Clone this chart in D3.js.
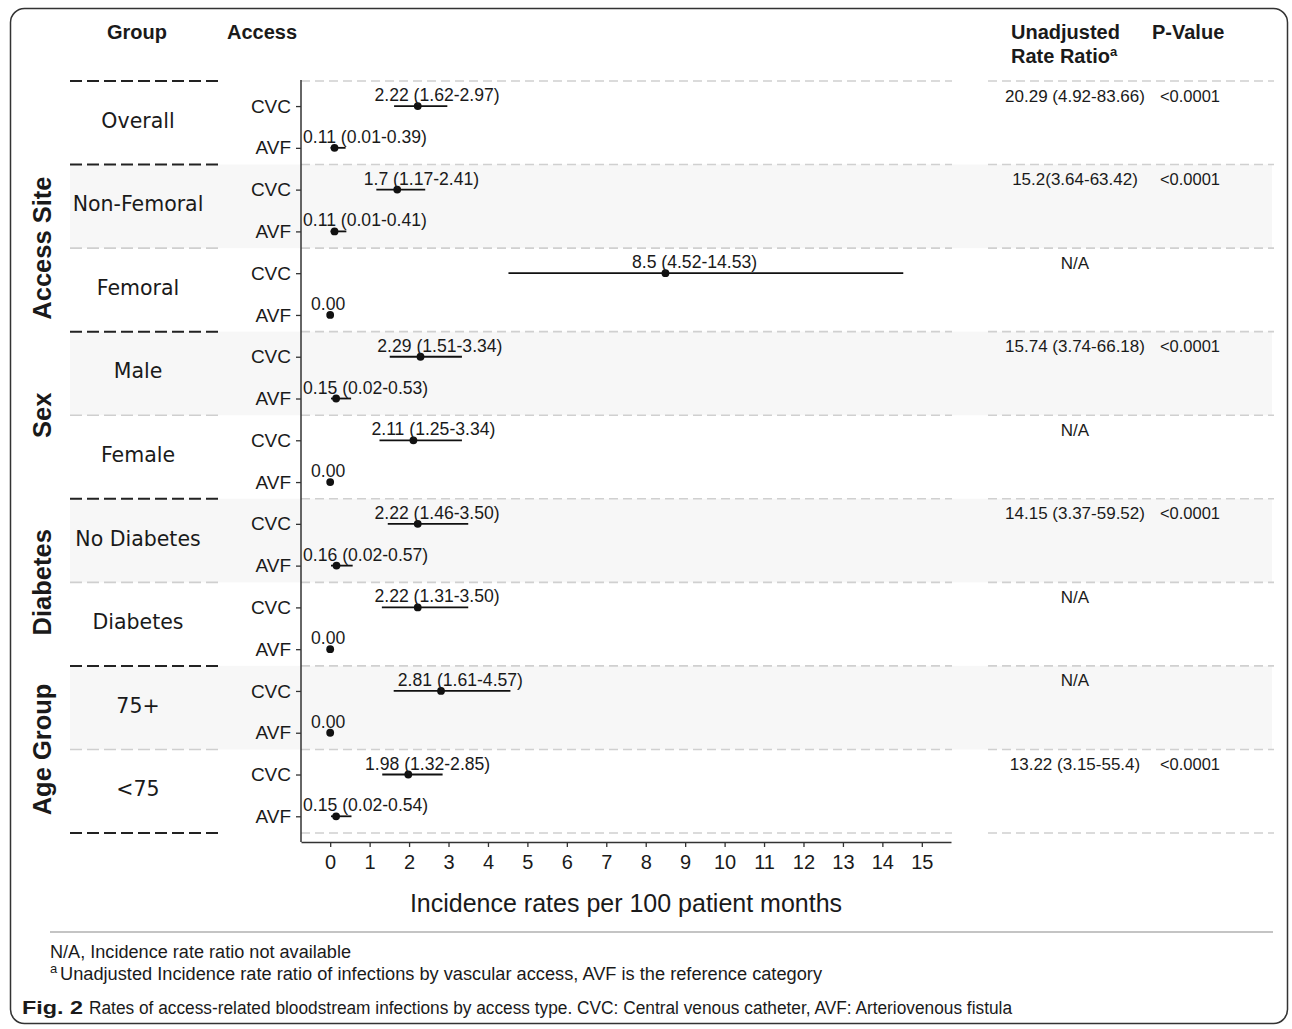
<!DOCTYPE html>
<html>
<head>
<meta charset="utf-8">
<script src="https://cdn.jsdelivr.net/npm/d3@7"></script>
<style>
  body { margin: 0; background: #fff; }
  svg text { font-family: "Liberation Sans", Arial, sans-serif; fill: #1a1a1a; }
</style>
</head>
<body>
<svg id="chart" width="1292" height="1029"></svg>
<script>
// data
const groups = ['Overall', 'Non-Femoral', 'Femoral', 'Male', 'Female', 'No Diabetes', 'Diabetes', '75+', '<75']
const categoryOf = ['', 'Access Site', 'Access Site', 'Sex', 'Sex', 'Diabetes', 'Diabetes', 'Age Group', 'Age Group']
const accessTypes = ['CVC', 'AVF']

const cvcRate = [2.22, 1.7, 8.5, 2.29, 2.11, 2.22, 2.22, 2.81, 1.98]
const cvcLower = [1.62, 1.17, 4.52, 1.51, 1.25, 1.46, 1.31, 1.61, 1.32]
const cvcUpper = [2.97, 2.41, 14.53, 3.34, 3.34, 3.50, 3.50, 4.57, 2.85]
const cvcLabel = ['2.22 (1.62-2.97)', '1.7 (1.17-2.41)', '8.5 (4.52-14.53)', '2.29 (1.51-3.34)', '2.11 (1.25-3.34)',
  '2.22 (1.46-3.50)', '2.22 (1.31-3.50)', '2.81 (1.61-4.57)', '1.98 (1.32-2.85)']

const avfRate = [0.11, 0.11, 0, 0.15, 0, 0.16, 0, 0, 0.15]
const avfLower = [0.01, 0.01, null, 0.02, null, 0.02, null, null, 0.02]
const avfUpper = [0.39, 0.41, null, 0.53, null, 0.57, null, null, 0.54]
const avfLabel = ['0.11 (0.01-0.39)', '0.11 (0.01-0.41)', '0.00', '0.15 (0.02-0.53)', '0.00',
  '0.16 (0.02-0.57)', '0.00', '0.00', '0.15 (0.02-0.54)']

const rateRatio = ['20.29 (4.92-83.66)', '15.2(3.64-63.42)', 'N/A', '15.74 (3.74-66.18)', 'N/A',
  '14.15 (3.37-59.52)', 'N/A', 'N/A', '13.22 (3.15-55.4)']
const pValue = ['<0.0001', '<0.0001', '', '<0.0001', '', '<0.0001', '', '', '<0.0001']

const xTicks = d3.range(0, 16)

const svg = d3.select('#chart')

const panel = { l: 301, r: 951, t: 80, b: 842 }
const x = d3.scaleLinear().domain([-0.74, 15.74]).range([panel.l, panel.r])
const y = d3.scaleLinear().domain([-0.6, 17.4]).range([81, 833])
const boundary = d3.range(groups.length + 1).map(i => 2 * i - 0.6)

const points = groups.flatMap((g, i) => [
  { row: 2 * i, est: cvcRate[i], lo: cvcLower[i], hi: cvcUpper[i], label: cvcLabel[i] },
  { row: 2 * i + 1, est: avfRate[i], lo: avfLower[i], hi: avfUpper[i], label: avfLabel[i] }
])

// outer frame
svg.append('rect')
  .attr('x', 10.5).attr('y', 8.5)
  .attr('width', 1277).attr('height', 1015)
  .attr('rx', 14)
  .attr('fill', 'none')
  .attr('stroke', '#333')
  .attr('stroke-width', 1.5)

// alternating bands
svg.append('g')
  .selectAll('rect')
  .data(groups.map((g, i) => i).filter(i => i % 2 === 1))
  .join('rect')
  .attr('x', 70)
  .attr('width', 1272 - 70)
  .attr('y', i => y(boundary[i]))
  .attr('height', i => y(boundary[i + 1]) - y(boundary[i]))
  .attr('fill', '#f7f7f7')

// separators
const isMajor = i => i === 0 || i === groups.length || categoryOf[i] !== categoryOf[i - 1]

const sep = svg.append('g')
boundary.forEach((b, i) => {
  sep.append('line')
    .attr('x1', 70).attr('x2', 218)
    .attr('y1', y(b)).attr('y2', y(b))
    .attr('stroke', isMajor(i) ? '#222' : '#cfcfcf')
    .attr('stroke-width', isMajor(i) ? 2 : 1.6)
    .attr('stroke-dasharray', '12,5')
  sep.append('line')
    .attr('x1', panel.l).attr('x2', panel.r + 1)
    .attr('y1', y(b)).attr('y2', y(b))
    .attr('stroke', '#d0d0d0')
    .attr('stroke-width', 1.6)
    .attr('stroke-dasharray', '9,5')
  sep.append('line')
    .attr('x1', 988).attr('x2', 1274)
    .attr('y1', y(b)).attr('y2', y(b))
    .attr('stroke', '#d0d0d0')
    .attr('stroke-width', 1.6)
    .attr('stroke-dasharray', '9,5')
})

// headers
const header = svg.append('g').attr('font-weight', 'bold').attr('font-size', 20)
header.append('text').attr('x', 137).attr('y', 39).attr('text-anchor', 'middle').text('Group')
header.append('text').attr('x', 227).attr('y', 39).text('Access')
header.append('text').attr('x', 1011).attr('y', 39).text('Unadjusted')
const rr = header.append('text').attr('x', 1011).attr('y', 63)
rr.append('tspan').text('Rate Ratio')
rr.append('tspan').attr('font-size', 13).attr('dy', -7).text('a')
header.append('text').attr('x', 1152).attr('y', 39).text('P-Value')

// category labels (rotated)
const cats = Array.from(new Set(categoryOf.filter(c => c)))
svg.append('g')
  .selectAll('text')
  .data(cats)
  .join('text')
  .attr('transform', c => {
    const first = categoryOf.indexOf(c)
    const last = categoryOf.lastIndexOf(c)
    const cy = (y(boundary[first]) + y(boundary[last + 1])) / 2
    return `translate(51, ${cy}) rotate(-90)`
  })
  .attr('text-anchor', 'middle')
  .attr('font-weight', 'bold')
  .attr('font-size', 25.5)
  .text(c => c)

// group labels
svg.append('g')
  .selectAll('text')
  .data(groups)
  .join('text')
  .attr('x', 138)
  .attr('y', (g, i) => (y(boundary[i]) + y(boundary[i + 1])) / 2 + 5)
  .attr('text-anchor', 'middle')
  .style('font-family', '"DejaVu Sans", sans-serif')
  .attr('font-size', 20.5)
  .text(g => g)

// axes
const axisX = d3.axisBottom(x)
  .tickValues(xTicks)
  .tickSize(5)
  .tickSizeOuter(0)
  .tickPadding(8)

const gx = svg.append('g')
  .attr('transform', `translate(0, ${panel.b})`)
  .call(axisX)
gx.select('.domain').attr('stroke', '#333').attr('stroke-width', 1.5)
gx.selectAll('.tick line').attr('stroke', '#333').attr('stroke-width', 1.3)
gx.selectAll('.tick text').attr('font-size', 20).attr('font-family', null).style('fill', '#1a1a1a')

const axisY = d3.axisLeft(y)
  .tickValues(points.map(p => p.row))
  .tickFormat(r => accessTypes[r % 2])
  .tickSize(5)
  .tickPadding(5)

const gy = svg.append('g')
  .attr('transform', `translate(${panel.l}, 0)`)
  .call(axisY)
gy.select('.domain').remove()
gy.selectAll('.tick line').attr('stroke', '#333').attr('stroke-width', 1.3)
gy.selectAll('.tick text').attr('font-size', 19).attr('font-family', null).style('fill', '#1a1a1a')

svg.append('line')
  .attr('x1', panel.l).attr('x2', panel.l)
  .attr('y1', panel.t).attr('y2', panel.b)
  .attr('stroke', '#333')
  .attr('stroke-width', 1.5)

svg.append('text')
  .attr('x', (panel.l + panel.r) / 2)
  .attr('y', 912)
  .attr('text-anchor', 'middle')
  .attr('font-size', 25)
  .text('Incidence rates per 100 patient months')

// intervals and points
const marks = svg.append('g')
marks.selectAll('line')
  .data(points.filter(p => p.lo !== null))
  .join('line')
  .attr('x1', p => x(p.lo))
  .attr('x2', p => x(p.hi))
  .attr('y1', p => y(p.row))
  .attr('y2', p => y(p.row))
  .attr('stroke', '#111')
  .attr('stroke-width', 1.8)

marks.selectAll('circle')
  .data(points)
  .join('circle')
  .attr('cx', p => x(p.est))
  .attr('cy', p => y(p.row))
  .attr('r', 3.9)
  .attr('fill', '#111')

// point labels: "(" sits at the point, kept inside the panel
const labelSize = 17.6
const measure = svg.append('text').attr('font-size', labelSize).attr('visibility', 'hidden')
const labels = svg.append('g').attr('font-size', labelSize)
points.forEach(p => {
  const k = p.label.indexOf('(')
  let x0
  if (k < 0) {
    measure.text(p.label)
    x0 = x(p.est) - measure.node().getComputedTextLength() / 2 - 2
  } else {
    measure.text(p.label.slice(0, k).trim())
    x0 = x(p.est) - measure.node().getComputedTextLength() - 9
  }
  x0 = Math.max(x0, panel.l + 2)
  labels.append('text')
    .attr('x', x0)
    .attr('y', y(p.row) - 5)
    .text(p.label)
})
measure.remove()

// right table
const table = svg.append('g')
table.selectAll('text.rr')
  .data(rateRatio)
  .join('text')
  .attr('class', 'rr')
  .attr('x', 1075)
  .attr('y', (d, i) => y(2 * i) - 4.5)
  .attr('text-anchor', 'middle')
  .attr('font-size', 17)
  .text(d => d)

table.selectAll('text.pv')
  .data(pValue)
  .join('text')
  .attr('class', 'pv')
  .attr('x', 1190)
  .attr('y', (d, i) => y(2 * i) - 4.5)
  .attr('text-anchor', 'middle')
  .attr('font-size', 16.5)
  .text(d => d)

// footer
svg.append('line')
  .attr('x1', 50).attr('x2', 1273)
  .attr('y1', 932).attr('y2', 932)
  .attr('stroke', '#c4c4c4')
  .attr('stroke-width', 2)

svg.append('text')
  .attr('x', 50).attr('y', 958)
  .attr('font-size', 18)
  .attr('textLength', 301)
  .attr('lengthAdjust', 'spacingAndGlyphs')
  .text('N/A, Incidence rate ratio not available')

svg.append('text')
  .attr('x', 50).attr('y', 973)
  .attr('font-size', 13)
  .text('a')
svg.append('text')
  .attr('x', 60).attr('y', 980)
  .attr('font-size', 18)
  .attr('textLength', 762)
  .attr('lengthAdjust', 'spacingAndGlyphs')
  .text('Unadjusted Incidence rate ratio of infections by vascular access, AVF is the reference category')

svg.append('text')
  .attr('x', 22).attr('y', 1014)
  .attr('font-size', 19)
  .attr('font-weight', 'bold')
  .attr('textLength', 61)
  .attr('lengthAdjust', 'spacingAndGlyphs')
  .text('Fig. 2')
svg.append('text')
  .attr('x', 89).attr('y', 1014)
  .attr('font-size', 18)
  .attr('textLength', 923)
  .attr('lengthAdjust', 'spacingAndGlyphs')
  .text('Rates of access-related bloodstream infections by access type. CVC: Central venous catheter, AVF: Arteriovenous fistula')
</script>
</body>
</html>
